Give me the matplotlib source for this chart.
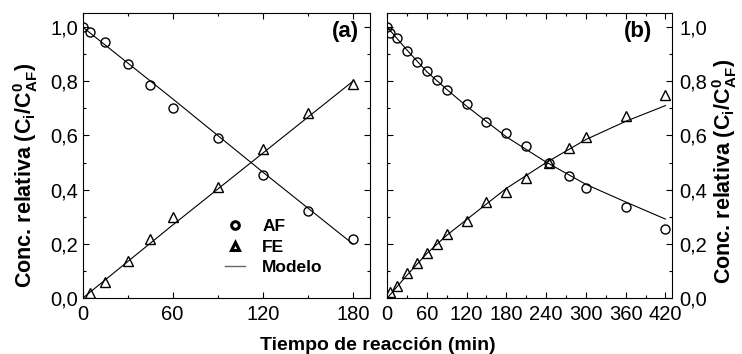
import numpy as np
import matplotlib
matplotlib.use('Agg')
import matplotlib.pyplot as plt
from matplotlib.lines import Line2D
from matplotlib.ticker import MultipleLocator

# =============================================================================
#                                   Data
# =============================================================================

# (a) experimental points
t_a = [0, 5, 15, 30, 45, 60, 90, 120, 150, 180]
af_a = [1.0, 0.98, 0.943, 0.865, 0.785, 0.70, 0.592, 0.456, 0.32, 0.217]
t_a_fe = [5, 15, 30, 45, 60, 90, 120, 150, 180]
fe_a = [0.021, 0.061, 0.139, 0.217, 0.30, 0.41, 0.549, 0.681, 0.788]

# (a) model
t_a_mod = [0, 60, 120, 180]
af_a_mod = [1.0, 0.735, 0.465, 0.20]
fe_a_mod = [0.0, 0.27, 0.535, 0.80]

# (b) experimental points
t_b = [0, 5, 15, 30, 45, 60, 75, 90, 120, 150, 180, 210, 245, 275, 300, 360, 420]
af_b = [1.0, 0.977, 0.96, 0.91, 0.872, 0.837, 0.805, 0.768, 0.717, 0.65,
        0.61, 0.561, 0.50, 0.452, 0.408, 0.335, 0.254]
t_b_fe = [5, 15, 30, 45, 60, 75, 90, 120, 150, 180, 210, 245, 275, 300, 360, 420]
fe_b = [0.022, 0.045, 0.095, 0.13, 0.166, 0.20, 0.236, 0.286, 0.354, 0.39,
        0.442, 0.50, 0.553, 0.596, 0.67, 0.75]

# (b) model
t_b_mod = [0, 30, 60, 90, 120, 180, 240, 300, 360, 420]
af_b_mod = [1.0, 0.915, 0.835, 0.77, 0.708, 0.595, 0.502, 0.42, 0.355, 0.292]
fe_b_mod = [0.0, 0.085, 0.165, 0.232, 0.29, 0.405, 0.50, 0.585, 0.652, 0.71]

yticks = [0.0, 0.2, 0.4, 0.6, 0.8, 1.0]
ytick_labels = ['0,0', '0,2', '0,4', '0,6', '0,8', '1,0']

# =============================================================================
#                                  Styling
# =============================================================================

plt.rcParams['font.family'] = ['Liberation Sans', 'DejaVu Sans']
plt.rcParams['mathtext.fontset'] = 'custom'
plt.rcParams['mathtext.rm'] = 'Liberation Sans'
plt.rcParams['mathtext.bf'] = 'Liberation Sans:bold'

ylabel = r'Conc. relativa (C$_\mathbf{i}$/C$^\mathbf{0}_\mathbf{AF}$)'
pt_style = dict(ls='none', mfc='none', mec='k', mew=1.0, ms=6.5, color='k')
line_style = dict(color='k', lw=0.8)


def style_axis(ax, xmax, right_labels=False):
    """ Ticks, limits and spines like the original figure """
    ax.set_xlim(0, xmax)
    ax.set_ylim(0, 1.05)
    ax.xaxis.set_major_locator(MultipleLocator(60))
    ax.xaxis.set_minor_locator(MultipleLocator(30))
    ax.set_yticks(yticks)
    ax.set_yticklabels(ytick_labels)
    ax.yaxis.set_minor_locator(MultipleLocator(0.1))
    ax.tick_params(which='both', direction='in', top=True, right=True,
                   labelsize=14.5, width=0.8)
    ax.tick_params(which='major', length=4)
    ax.tick_params(which='minor', length=2.2)
    ax.tick_params(axis='x', pad=5)
    if right_labels:
        ax.tick_params(axis='y', labelleft=False, labelright=True, pad=5.5)
    else:
        ax.tick_params(axis='y', pad=3)
    for s in ax.spines.values():
        s.set_linewidth(0.8)


fig = plt.figure(figsize=(7.42, 3.54), dpi=100)
ax1 = fig.add_axes([0.1112, 0.1573, 0.3868, 0.805])
ax2 = fig.add_axes([0.5216, 0.1573, 0.3841, 0.805])

# ----------------------------- panel (a) -----------------------------------
ax1.plot(t_a_mod, af_a_mod, **line_style)
ax1.plot(t_a_mod, fe_a_mod, **line_style)
ax1.plot(t_a, af_a, marker='o', **pt_style)
ax1.plot(t_a_fe, fe_a, marker='^', **pt_style)
style_axis(ax1, 191)
ax1.text(0.965, 0.935, '(a)', transform=ax1.transAxes, ha='right', va='center',
         fontsize=16, fontweight='bold')

handles = [Line2D([], [], ls='none', marker='o', mfc='none', mec='k', mew=2.2, ms=5.5),
           Line2D([], [], ls='none', marker='^', mfc='none', mec='k', mew=2.2, ms=6),
           Line2D([], [], color='#666666', lw=1.0)]
leg = ax1.legend(handles, ['AF', 'FE', 'Modelo'], loc='upper left',
                 bbox_to_anchor=(0.4965, 0.278), frameon=False, borderpad=0,
                 borderaxespad=0, handlelength=1.15, handletextpad=1.0,
                 labelspacing=0.3,
                 prop={'family': 'Liberation Sans', 'weight': 'bold', 'size': 12.5})

# ----------------------------- panel (b) -----------------------------------
ax2.plot(t_b_mod, af_b_mod, **line_style)
ax2.plot(t_b_mod, fe_b_mod, **line_style)
ax2.plot(t_b, af_b, marker='o', **pt_style)
ax2.plot(t_b_fe, fe_b, marker='^', **pt_style)
style_axis(ax2, 430, right_labels=True)
ax2.text(0.93, 0.935, '(b)', transform=ax2.transAxes, ha='right', va='center',
         fontsize=16, fontweight='bold')

# ----------------------------- labels --------------------------------------
fig.text(32 / 742, 1 - 175 / 354, ylabel, rotation=90, rotation_mode='anchor',
         ha='center', va='baseline', fontsize=15.5, fontweight='bold')
fig.text(731 / 742, 1 - 171 / 354, ylabel, rotation=90, rotation_mode='anchor',
         ha='center', va='baseline', fontsize=15.5, fontweight='bold')
fig.text(378 / 742, 1 - 350 / 354, 'Tiempo de reacción (min)', ha='center',
         va='baseline', fontsize=14, fontweight='bold')

fig.savefig('out.png', dpi=100)
